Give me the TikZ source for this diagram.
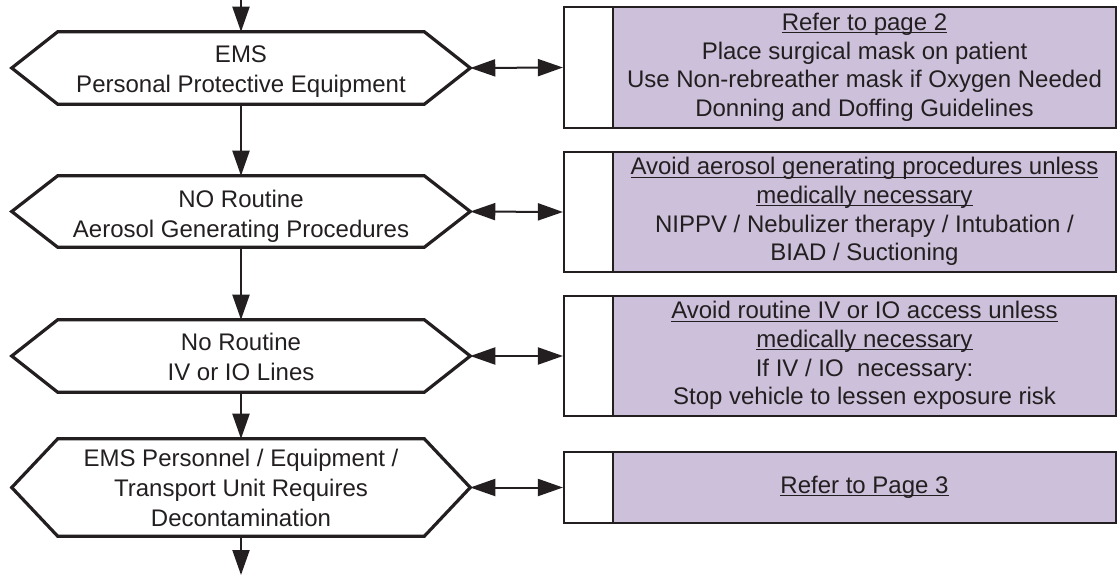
\documentclass[tikz,border=0pt]{standalone}
\usepackage{fontspec}
\setmainfont{Liberation Sans}
\usetikzlibrary{arrows.meta,calc}
\definecolor{boxpurple}{RGB}{204,192,218}
\definecolor{ink}{RGB}{35,31,32}
\newcommand\ulx[1]{\underline{\smash{#1}}\vphantom{Ay}}
\newcommand\hexdraw[1]{\draw[hexline] (#1.west) -- ($(#1.north west)+(46,0)$) -- ($(#1.north east)+(-46,0)$) -- (#1.east) -- ($(#1.south east)+(-46,0)$) -- ($(#1.south west)+(46,0)$) -- cycle;}
\begin{document}
\begin{tikzpicture}[x=0.75pt,y=-0.75pt,
  every node/.style={text=ink},
  hexnode/.style={draw=none, inner sep=0pt, minimum width=458*0.75pt},
  hextext/.style={align=center, inner sep=0pt, font=\fontsize{18}{22.5}\selectfont},
  hexline/.style={draw=ink, line width=2.4pt, line join=miter},
  infobox/.style={draw=ink, line width=1.6pt, fill=boxpurple, align=center, inner sep=0pt,
    minimum width=503*0.75pt, font=\fontsize{18}{21.4}\selectfont},
  stripbox/.style={draw=ink, line width=1.6pt, fill=white, inner sep=0pt, minimum width=49*0.75pt},
  tipT/.tip={Triangle[length=18.75pt,width=12.75pt]},
  conn/.style={draw=ink, line width=1.5pt, -tipT},
  dconn/.style={draw=ink, line width=1.5pt, tipT-tipT}
]
\useasboundingbox (0,0) rectangle (1118,575);

% hexagon decision nodes
\node[hexnode, minimum height=72*0.75pt] (h1) at (241,68) {};
\node[hexnode, minimum height=71*0.75pt] (h2) at (241,211.5) {};
\node[hexnode, minimum height=72*0.75pt] (h3) at (241,356) {};
\node[hexnode, minimum height=97*0.75pt] (h4) at (241,487.5) {};
\hexdraw{h1}
\hexdraw{h2}
\hexdraw{h3}
\hexdraw{h4}
\node[hextext] (t1) at ($(h1.center)+(0,4)$) {EMS\\Personal Protective Equipment};
\node[hextext] (t2) at ($(h2.center)+(0,5)$) {NO Routine\\Aerosol Generating Procedures};
\node[hextext] (t3) at ($(h3.center)+(0,1)$) {No Routine\\IV or IO Lines};
\node[hextext] (t4) at (h4.center) {EMS Personnel / Equipment /\\Transport Unit Requires\\Decontamination};

% info boxes
\node[stripbox, minimum height=121*0.75pt] (s1) at (588.5,67.5) {};
\node[infobox, minimum height=121*0.75pt] (b1) at (864.5,67.5)
  {\ulx{Refer to page 2}\\Place surgical mask on patient\\Use Non-rebreather mask if Oxygen Needed\\Donning and Doffing Guidelines};
\node[stripbox, minimum height=120*0.75pt] (s2) at (588.5,212) {};
\node[infobox, minimum height=120*0.75pt] (b2) at (864.5,212)
  {\ulx{Avoid aerosol generating procedures unless}\\\ulx{medically necessary}\\NIPPV / Nebulizer therapy / Intubation /\\BIAD / Suctioning};
\node[stripbox, minimum height=120*0.75pt] (s3) at (588.5,356) {};
\node[infobox, minimum height=120*0.75pt] (b3) at (864.5,356)
  {\ulx{Avoid routine IV or IO access unless}\\\ulx{medically necessary}\\If IV / IO\ \ necessary:\\Stop vehicle to lessen exposure risk};
\node[stripbox, minimum height=71*0.75pt] (s4) at (588.5,487.5) {};
\node[infobox, minimum height=71*0.75pt] (b4) at (864.5,487.5) {\ulx{Refer to Page 3}};

% vertical flow
\coordinate (top) at (241,0);
\coordinate (bot) at (241,575);
\draw[conn] (top) -- (h1.north);
\draw[conn] (h1.south) -- (h2.north);
\draw[conn] (h2.south) -- (h3.north);
\draw[conn] (h3.south) -- (h4.north);
\draw[conn] (h4.south) -- (bot);

% side connectors
\draw[dconn] (h1.east) -- (s1.west);
\draw[dconn] (h2.east) -- (s2.west);
\draw[dconn] (h3.east) -- (s3.west);
\draw[dconn] (h4.east) -- (s4.west);
\end{tikzpicture}
\end{document}
